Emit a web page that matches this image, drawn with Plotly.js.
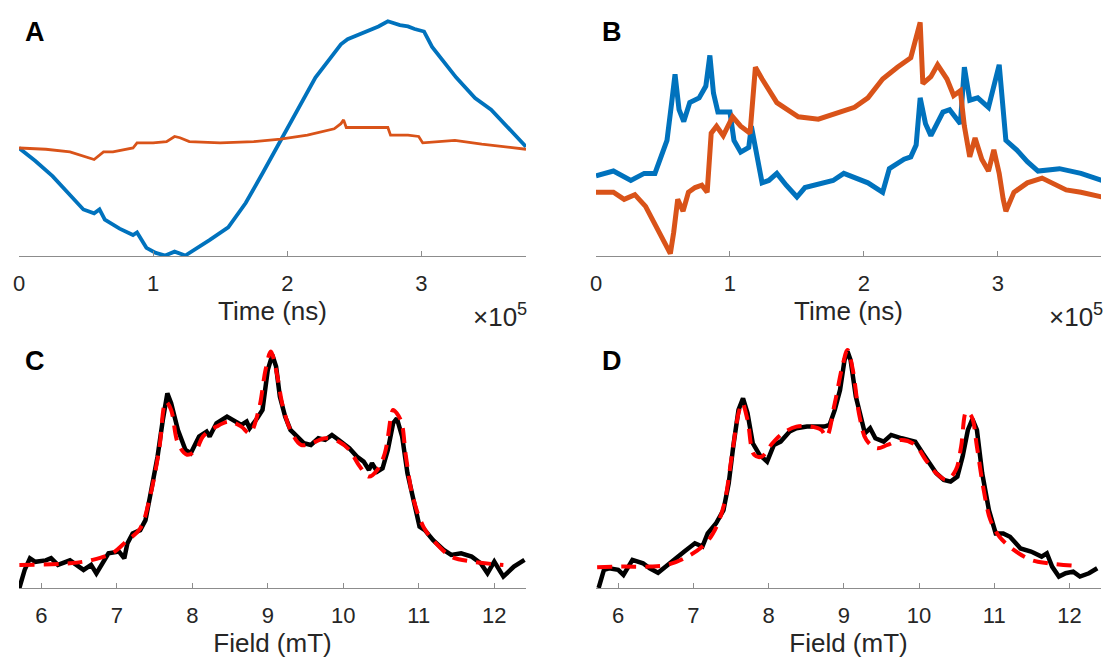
<!DOCTYPE html>
<html>
<head>
<meta charset="utf-8">
<script src="https://cdn.plot.ly/plotly-3.0.1.min.js"></script>
<style>html,body{margin:0;padding:0;background:#fff;}#chart{width:1105px;height:659px;}</style>
</head>
<body>
<div id="chart"></div>
<script>
// ---------- Panel A (time traces) ----------
const timeA_blue = [0,12000,25000,37000,48000,56000,60000,64000,75000,85000,88000,95000,102000,109000,116000,124000,132000,142000,156000,169000,182000,195000,208000,221000,232000,240000,245000,252000,260000,268000,275000,280000,284000,290000,295000,302000,308000,326000,340000,352000,365000,378000];
const sigA_blue  = [0,-0.10,-0.22,-0.36,-0.48,-0.51,-0.48,-0.56,-0.63,-0.68,-0.66,-0.78,-0.82,-0.84,-0.81,-0.84,-0.79,-0.72,-0.62,-0.43,-0.19,0.06,0.31,0.55,0.70,0.81,0.85,0.88,0.92,0.95,0.99,0.97,0.96,0.95,0.93,0.91,0.79,0.55,0.39,0.30,0.16,0.01];
const timeA_orange = [0,20000,38000,47000,56000,63000,70000,85000,88000,100000,110000,116000,120000,127000,150000,175000,195000,215000,235000,240000,242000,244000,262000,275000,277000,290000,298000,301000,325000,345000,378000];
const sigA_orange  = [0,-0.01,-0.03,-0.06,-0.09,-0.03,-0.03,0,0.04,0.04,0.05,0.09,0.08,0.05,0.04,0.05,0.07,0.10,0.15,0.19,0.22,0.16,0.16,0.16,0.10,0.10,0.09,0.04,0.06,0.03,-0.01];

// ---------- Panel B (time traces) ----------
const timeB_blue = [0,13000,26000,36000,44000,48000,53000,56500,59000,62000,65500,70000,77000,82000,85000,87700,91000,100000,103000,108000,114000,116000,120000,124000,129000,135000,142000,150000,156000,170000,177000,185000,203000,214000,219000,230000,235000,239000,242000,246000,250000,259000,264000,272000,275000,279000,285000,293000,297000,301000,306000,314000,322000,330000,346000,362000,378000];
const sigB_blue  = [0.34,0.36,0.32,0.35,0.35,0.41,0.49,0.65,0.77,0.62,0.57,0.65,0.67,0.72,0.85,0.69,0.61,0.61,0.49,0.44,0.46,0.55,0.42,0.31,0.32,0.35,0.30,0.25,0.29,0.31,0.32,0.35,0.31,0.27,0.37,0.41,0.42,0.47,0.67,0.56,0.51,0.61,0.62,0.56,0.80,0.66,0.67,0.63,0.72,0.81,0.49,0.45,0.40,0.36,0.37,0.35,0.32];
const timeB_orange = [0,13000,21000,29000,37000,45000,50000,55500,58000,61000,65000,69000,74000,79000,83000,86000,90000,95000,102000,108000,115000,119000,124000,135000,151000,166000,182000,193000,203000,214000,225000,235000,242000,244000,250000,255000,262000,267000,272000,275000,279000,283000,288000,293000,297000,301000,304000,306000,312000,322000,333000,341000,351000,362000,378000];
const sigB_orange  = [0.27,0.27,0.24,0.26,0.21,0.12,0.07,0.01,0.10,0.24,0.19,0.27,0.29,0.30,0.27,0.52,0.55,0.51,0.59,0.55,0.52,0.80,0.75,0.65,0.59,0.58,0.61,0.63,0.67,0.75,0.80,0.84,0.99,0.73,0.76,0.81,0.75,0.68,0.70,0.55,0.42,0.50,0.41,0.36,0.45,0.35,0.24,0.19,0.27,0.31,0.33,0.31,0.28,0.27,0.25];

// ---------- Panel C (field spectra) ----------
const fieldC_exp = [5.71,5.78,5.85,5.92,6.06,6.13,6.22,6.38,6.56,6.66,6.73,6.80,6.89,7.03,7.10,7.14,7.21,7.31,7.38,7.44,7.54,7.61,7.67,7.72,7.81,7.91,7.98,8.09,8.19,8.23,8.32,8.46,8.56,8.65,8.72,8.76,8.86,8.93,9.00,9.06,9.11,9.16,9.23,9.30,9.39,9.48,9.57,9.67,9.76,9.85,9.94,10.08,10.18,10.27,10.34,10.38,10.45,10.52,10.59,10.66,10.71,10.78,10.85,10.92,11.01,11.08,11.19,11.33,11.43,11.56,11.70,11.82,11.91,12.00,12.12,12.26,12.40];
const intC_exp   = [0.0,0.076,0.125,0.11,0.116,0.125,0.097,0.116,0.076,0.097,0.061,0.10,0.146,0.153,0.125,0.187,0.229,0.243,0.285,0.384,0.552,0.706,0.818,0.776,0.664,0.580,0.566,0.636,0.657,0.636,0.692,0.720,0.699,0.685,0.699,0.671,0.713,0.748,0.916,0.979,0.930,0.804,0.720,0.664,0.636,0.608,0.601,0.629,0.622,0.643,0.622,0.587,0.552,0.531,0.496,0.524,0.489,0.503,0.580,0.692,0.713,0.636,0.482,0.384,0.258,0.243,0.201,0.160,0.139,0.146,0.132,0.104,0.062,0.111,0.048,0.090,0.118];
const fieldC_fit = [5.71,6.38,6.68,6.94,7.12,7.31,7.44,7.56,7.65,7.72,7.81,7.93,8.05,8.14,8.32,8.49,8.65,8.76,8.88,8.97,9.04,9.11,9.20,9.30,9.44,9.58,9.76,9.94,10.08,10.22,10.34,10.45,10.55,10.64,10.66,10.76,10.83,10.92,11.06,11.19,11.43,11.70,12.12];
const intC_fit   = [0.097,0.104,0.118,0.146,0.194,0.25,0.384,0.58,0.783,0.748,0.608,0.56,0.58,0.636,0.678,0.699,0.678,0.650,0.748,0.916,0.993,0.916,0.762,0.664,0.601,0.608,0.629,0.615,0.580,0.510,0.468,0.496,0.566,0.734,0.748,0.706,0.552,0.384,0.258,0.201,0.132,0.111,0.097];

// ---------- Panel D (field spectra) ----------
const fieldD_exp = [5.74,5.81,5.88,6.00,6.07,6.19,6.33,6.42,6.53,6.60,6.74,6.88,7.02,7.12,7.19,7.30,7.40,7.47,7.53,7.60,7.66,7.72,7.79,7.88,7.98,8.07,8.16,8.28,8.37,8.51,8.65,8.74,8.81,8.88,8.95,9.01,9.05,9.09,9.16,9.23,9.28,9.35,9.42,9.53,9.63,9.77,9.86,9.95,10.05,10.14,10.23,10.33,10.42,10.51,10.58,10.65,10.71,10.77,10.84,10.93,11.02,11.12,11.21,11.35,11.49,11.63,11.70,11.77,11.86,11.95,12.05,12.14,12.26,12.37];
const intD_exp   = [0.0,0.076,0.083,0.076,0.055,0.118,0.104,0.083,0.064,0.083,0.118,0.153,0.188,0.174,0.229,0.271,0.327,0.440,0.594,0.748,0.797,0.734,0.608,0.559,0.531,0.601,0.615,0.657,0.671,0.678,0.678,0.678,0.685,0.748,0.832,0.958,0.993,0.958,0.804,0.706,0.650,0.671,0.629,0.615,0.643,0.629,0.622,0.615,0.566,0.524,0.482,0.454,0.447,0.468,0.552,0.664,0.709,0.664,0.482,0.327,0.229,0.229,0.215,0.166,0.153,0.132,0.146,0.090,0.048,0.062,0.069,0.048,0.062,0.083];
const fieldD_fit = [5.72,6.05,6.42,6.65,6.88,7.12,7.26,7.40,7.51,7.60,7.65,7.72,7.81,7.91,8.05,8.19,8.37,8.56,8.70,8.77,8.88,8.98,9.05,9.12,9.21,9.30,9.44,9.58,9.77,9.95,10.09,10.23,10.37,10.49,10.56,10.63,10.70,10.77,10.86,10.95,11.07,11.26,11.49,11.72,12.09];
const intD_fit   = [0.087,0.090,0.090,0.097,0.125,0.174,0.229,0.341,0.552,0.734,0.776,0.706,0.559,0.552,0.608,0.650,0.678,0.678,0.664,0.636,0.776,0.930,1.0,0.916,0.720,0.622,0.587,0.601,0.622,0.601,0.538,0.482,0.454,0.496,0.594,0.741,0.720,0.594,0.412,0.285,0.215,0.160,0.118,0.104,0.093];

// ---------- Labels ----------
const panelLabels = ['A','B','C','D'];
const timeTicks = [0,100000,200000,300000];
const timeTickText = ['0','1','2','3'];
const fieldTicks = [6,7,8,9,10,11,12];
const fieldTickText = ['6','7','8','9','10','11','12'];
const timeTitle = 'Time (ns)';
const fieldTitle = 'Field (mT)';
const expLabel = '×10<sup>5</sup>';

const W = 1105, H = 659;
const px = v => v / W;
const py = v => 1 - v / H;

const BLUE = '#0072BD', ORANGE = '#D95319';
const FONT = 'Liberation Sans, Arial, Helvetica, sans-serif';

const traces = [
  {x: timeA_blue, y: sigA_blue, xaxis:'x', yaxis:'y', mode:'lines', line:{color:BLUE, width:3.8}, name:'A blue'},
  {x: timeA_orange, y: sigA_orange, xaxis:'x', yaxis:'y', mode:'lines', line:{color:ORANGE, width:2.8}, name:'A orange'},
  {x: timeB_blue, y: sigB_blue, xaxis:'x2', yaxis:'y2', mode:'lines', line:{color:BLUE, width:5}, name:'B blue'},
  {x: timeB_orange, y: sigB_orange, xaxis:'x2', yaxis:'y2', mode:'lines', line:{color:ORANGE, width:5}, name:'B orange'},
  {x: fieldC_exp, y: intC_exp, xaxis:'x3', yaxis:'y3', mode:'lines', line:{color:'#000', width:4.5}, name:'C exp'},
  {x: fieldC_fit, y: intC_fit, xaxis:'x3', yaxis:'y3', mode:'lines', line:{color:'#FF0000', width:4, dash:'15px,9px', shape:'spline'}, name:'C fit'},
  {x: fieldD_exp, y: intD_exp, xaxis:'x4', yaxis:'y4', mode:'lines', line:{color:'#000', width:4.5}, name:'D exp'},
  {x: fieldD_fit, y: intD_fit, xaxis:'x4', yaxis:'y4', mode:'lines', line:{color:'#FF0000', width:4, dash:'15px,9px', shape:'spline'}, name:'D fit'}
];

function xAx(domain, range, tickvals, ticktext, title) {
  return {
    domain: domain, range: range, tickvals: tickvals, ticktext: ticktext,
    showgrid:false, zeroline:false, showline:true, linecolor:'#8c8c8c', linewidth:1,
    ticks:'inside', ticklen:5, tickcolor:'#8c8c8c', tickwidth:1,
    ticklabelstandoff: 8,
    tickfont:{family:FONT, size:22, color:'#262626'},
    title:{text:title, font:{family:FONT, size:26, color:'#262626'}, standoff:4},
    fixedrange:true
  };
}
function yAx(domain, range, anchor) {
  return {domain: domain, range: range, visible:false, fixedrange:true, anchor: anchor};
}

const dxL = [px(19), px(526)], dxR = [px(596), px(1101)];
const dyT = [py(256), py(14)], dyB = [py(588), py(344)];

const layout = {
  width: W, height: H,
  margin:{l:0, r:0, t:0, b:0, pad:0},
  paper_bgcolor:'#ffffff', plot_bgcolor:'rgba(0,0,0,0)',
  showlegend:false,
  font:{family:FONT},
  xaxis:  Object.assign(xAx(dxL, [0, 378000], timeTicks, timeTickText, timeTitle), {anchor:'y'}),
  xaxis2: Object.assign(xAx(dxR, [0, 377000], timeTicks, timeTickText, timeTitle), {anchor:'y2'}),
  xaxis3: Object.assign(xAx(dxL, [5.705, 12.42], fieldTicks, fieldTickText, fieldTitle), {anchor:'y3'}),
  xaxis4: Object.assign(xAx(dxR, [5.705, 12.42], fieldTicks, fieldTickText, fieldTitle), {anchor:'y4'}),
  yaxis:  yAx(dyT, [-0.844, 1.047], 'x'),
  yaxis2: yAx(dyT, [0, 1.0254], 'x2'),
  yaxis3: yAx(dyB, [0, 1.025], 'x3'),
  yaxis4: yAx(dyB, [0, 1.025], 'x4'),
  annotations: [
    {text:'<b>'+panelLabels[0]+'</b>', x:px(35), y:py(32), xref:'paper', yref:'paper', xanchor:'center', yanchor:'middle', showarrow:false, font:{family:FONT, size:27, color:'#000'}},
    {text:'<b>'+panelLabels[1]+'</b>', x:px(612), y:py(32), xref:'paper', yref:'paper', xanchor:'center', yanchor:'middle', showarrow:false, font:{family:FONT, size:27, color:'#000'}},
    {text:'<b>'+panelLabels[2]+'</b>', x:px(35), y:py(361), xref:'paper', yref:'paper', xanchor:'center', yanchor:'middle', showarrow:false, font:{family:FONT, size:27, color:'#000'}},
    {text:'<b>'+panelLabels[3]+'</b>', x:px(612), y:py(361), xref:'paper', yref:'paper', xanchor:'center', yanchor:'middle', showarrow:false, font:{family:FONT, size:27, color:'#000'}},
    {text:expLabel, x:px(529), y:py(334), xref:'paper', yref:'paper', xanchor:'right', yanchor:'bottom', showarrow:false, font:{family:FONT, size:26, color:'#262626'}},
    {text:expLabel, x:px(1105), y:py(334), xref:'paper', yref:'paper', xanchor:'right', yanchor:'bottom', showarrow:false, font:{family:FONT, size:26, color:'#262626'}}
  ]
};

Plotly.newPlot('chart', traces, layout, {staticPlot:true, displayModeBar:false});
</script>
</body>
</html>
